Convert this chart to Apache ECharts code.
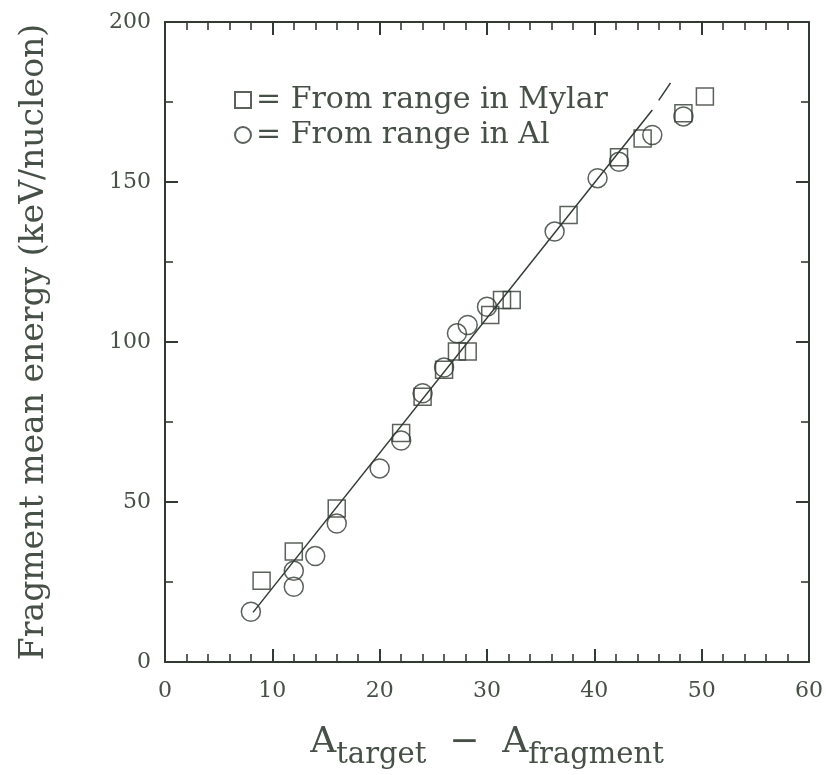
<!DOCTYPE html>
<html><head><meta charset="utf-8">
<script src="https://cdn.jsdelivr.net/npm/echarts@6/dist/echarts.min.js"></script>
<style>html,body{margin:0;padding:0;background:#fff}#c{width:834px;height:775px}</style>
</head><body><div id="c"></div>
<script>
// Data
const mylarX = [9, 12, 16, 22, 24, 26, 27.2, 28.2, 30.3, 31.4, 32.3, 37.6, 42.3, 44.5, 48.3, 50.3];
const mylarY = [25.4, 34.5, 48, 71.6, 82.9, 91.3, 97, 97, 108.4, 113.1, 113.1, 139.7, 157.7, 163.6, 171.5, 176.7];
const alX = [8, 12, 12, 14, 16, 20, 22, 24, 26, 27.2, 28.2, 30, 36.3, 40.3, 42.3, 45.4, 48.3];
const alY = [15.7, 28.5, 23.5, 33.1, 43.3, 60.5, 69.2, 84, 92, 102.7, 105.3, 111, 134.5, 151.2, 156.3, 164.7, 170.5];
const fitX = [8.2, 45.4];
const fitY = [15.5, 172.5];
const dashX = [46.0, 47.1];
const dashY = [175.5, 181];
const xTicks = [0, 10, 20, 30, 40, 50, 60];
const yTicks = [0, 50, 100, 150, 200];

const INK = '#323b33';
const TXT = '#465047';
const FONT = '"DejaVu Serif", "Liberation Serif", serif';

const zip = (a, b) => a.map((v, i) => [v, b[i]]);

function axisCommon(extra) {
  return Object.assign({
    type: 'value',
    axisLine: { show: true, onZero: false, lineStyle: { color: INK, width: 2 } },
    axisTick: { show: true, inside: true, length: 13, lineStyle: { color: INK, width: 2 } },
    minorTick: { show: true, length: 8, lineStyle: { color: INK, width: 1.6 } },
    splitLine: { show: false },
    minorSplitLine: { show: false }
  }, extra);
}

const chart = echarts.init(document.getElementById('c'), null, { renderer: 'canvas' });
chart.setOption({
  backgroundColor: '#ffffff',
  animation: false,
  grid: { left: 165, right: 25, top: 22, bottom: 113, containLabel: false },
  legend: {
    data: ['From range in Mylar', 'From range in Al'],
    orient: 'vertical',
    left: 229, top: 80,
    itemWidth: 16, itemHeight: 16, itemGap: 5,
    formatter: '= {name}',
    textStyle: { fontFamily: FONT, fontSize: 30, color: TXT, lineHeight: 30 }
  },
  xAxis: [
    axisCommon({
      position: 'bottom', min: xTicks[0], max: xTicks[xTicks.length - 1], interval: 10,
      minorTick: { show: true, splitNumber: 5, length: 8, lineStyle: { color: INK, width: 1.6 } },
      axisLabel: { show: true, margin: 18, fontFamily: FONT, fontSize: 22, color: TXT },
      name: '{a|A}{s|target}{a|  −  A}{s|fragment}',
      nameLocation: 'middle', nameGap: 53,
      nameTextStyle: {
        rich: {
          a: { fontFamily: FONT, fontSize: 36, color: TXT },
          s: { fontFamily: FONT, fontSize: 29, color: TXT, padding: [26, 0, 0, 0] }
        }
      }
    }),
    axisCommon({
      position: 'top', min: xTicks[0], max: xTicks[xTicks.length - 1], interval: 10,
      minorTick: { show: true, splitNumber: 5, length: 8, lineStyle: { color: INK, width: 1.6 } },
      axisLabel: { show: false }
    })
  ],
  yAxis: [
    axisCommon({
      position: 'left', min: yTicks[0], max: yTicks[yTicks.length - 1], interval: 50,
      minorTick: { show: true, splitNumber: 2, length: 8, lineStyle: { color: INK, width: 1.6 } },
      axisLabel: { show: true, margin: 14, fontFamily: FONT, fontSize: 22, color: TXT },
      name: 'Fragment mean energy (keV/nucleon)',
      nameLocation: 'middle', nameGap: 114,
      nameTextStyle: { fontFamily: FONT, fontSize: 33, color: TXT }
    }),
    axisCommon({
      position: 'right', min: yTicks[0], max: yTicks[yTicks.length - 1], interval: 50,
      minorTick: { show: true, splitNumber: 2, length: 8, lineStyle: { color: INK, width: 1.6 } },
      axisLabel: { show: false }
    })
  ],
  series: [
    {
      name: 'fit', type: 'line', xAxisIndex: 0, yAxisIndex: 0,
      data: zip(fitX, fitY), symbol: 'none', silent: true,
      lineStyle: { color: INK, width: 1.5 }
    },
    {
      name: 'fitext', type: 'line', xAxisIndex: 0, yAxisIndex: 0,
      data: zip(dashX, dashY), symbol: 'none', silent: true,
      lineStyle: { color: INK, width: 1.5 }
    },
    {
      name: 'From range in Mylar', type: 'scatter', xAxisIndex: 0, yAxisIndex: 0,
      data: zip(mylarX, mylarY), symbol: 'rect', symbolSize: 17,
      itemStyle: { color: 'rgba(255,255,255,0)', borderColor: INK, borderWidth: 1.5 }
    },
    {
      name: 'From range in Al', type: 'scatter', xAxisIndex: 0, yAxisIndex: 0,
      data: zip(alX, alY), symbol: 'circle', symbolSize: 19,
      itemStyle: { color: 'rgba(255,255,255,0)', borderColor: INK, borderWidth: 1.5 }
    }
  ]
});
</script></body></html>
